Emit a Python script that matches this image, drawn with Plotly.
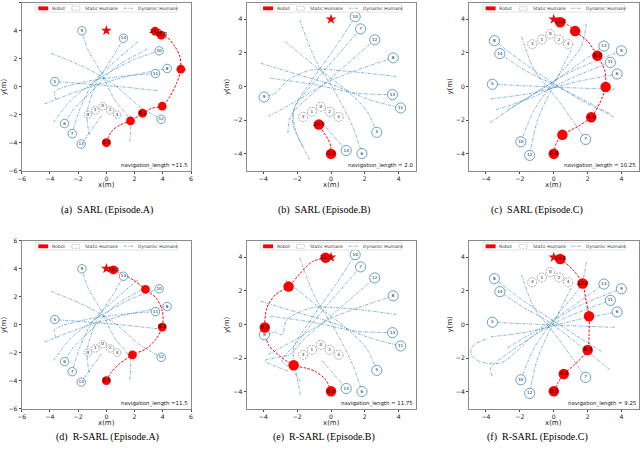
import plotly.graph_objects as go

# ------------------------------------------------------------------ data
GOAL_X = [0.0]
GOAL_Y = [4.0]

STATIC_LABELS = ["3", "1", "0", "2", "4"]
A_STATIC_X = [-1.30, -0.78, -0.26, 0.26, 0.76]
A_STATIC_Y = [-2.00, -1.70, -1.40, -1.70, -2.00]
B_STATIC_X = [-1.65, -1.13, -0.60, -0.08, 0.45]
B_STATIC_Y = [-1.80, -1.50, -1.20, -1.50, -1.80]
C_STATIC_X = [-1.27, -0.70, -0.20, 0.32, 0.85]
C_STATIC_Y = [2.52, 2.80, 3.12, 2.80, 2.52]

HUMAN_LABELS = ["5", "6", "7", "8", "9", "10", "11", "12", "13", "14"]

# Episode A dynamic humans (way-points, last point = final position)
A_HUMAN_X = [
    [3.60, 1.42, -1.42, -3.65],
    [2.91, 0.71, -1.18, -2.37, -2.96],
    [2.25, 0.47, -0.95, -1.90, -2.42],
    [-4.38, -1.66, 1.42, 4.31],
    [1.66, 1.66, 0.59, -0.47, -1.30, -1.73],
    [-3.74, -2.49, -0.47, 1.90, 3.74],
    [-3.55, -3.67, -1.42, 1.42, 3.48],
    [-3.91, -1.18, 0.71, 2.37, 3.89],
    [-0.36, -1.78],
    [-1.21, -1.37, -0.71, 0.47, 1.21],
]
A_HUMAN_Y = [
    [-0.29, -0.05, 0.19, 0.36],
    [2.67, 1.43, -0.48, -1.67, -2.64],
    [3.21, 1.67, 0.24, -1.67, -3.36],
    [-1.24, -0.19, 0.71, 1.29],
    [-3.93, -2.38, -0.95, 1.19, 2.62, 3.98],
    [-2.55, -0.95, 0.60, 1.90, 2.55],
    [-0.95, -0.36, 0.36, 0.76, 0.93],
    [2.38, 1.19, 0.00, -1.43, -2.33],
    [-2.10, -4.10],
    [-3.45, -1.90, 0.24, 2.14, 3.45],
]

# Episode B dynamic humans (SARL run)
B_HUMAN_X = [
    [-2.71, -0.92, 0.88, 2.07, 2.71],
    [-1.85, -0.92, 0.28, 1.27, 1.83],
    [-1.67, -2.27, -2.11, -0.52, 1.75],
    [-3.70, -1.91, 0.08, 3.68],
    [3.86, 1.07, -1.11, -2.51, -3.30, -3.96],
    [-1.27, -2.11, -2.21, -1.11, 0.28, 1.43],
    [-4.16, -1.91, 0.08, 2.27, 4.12],
    [-2.55, -2.41, -1.71, -0.12, 2.59],
    [-3.60, -0.92, 1.47, 3.64],
    [-0.52, 0.90],
]
B_HUMAN_Y = [
    [2.68, 1.20, -0.19, -1.37, -2.72],
    [3.96, 1.59, -0.39, -2.36, -3.98],
    [-3.55, -2.17, -1.18, 0.80, 3.43],
    [-1.77, -0.78, 0.41, 1.71],
    [0.60, 0.90, 1.00, 0.41, -0.39, -0.62],
    [-4.34, -2.56, -1.37, 0.41, 2.38, 4.16],
    [1.39, 0.70, 0.11, -0.78, -1.27],
    [-2.76, -1.77, -0.98, 0.41, 2.78],
    [0.50, 0.11, -0.39, -0.48],
    [-2.16, -3.80],
]

# Episode B dynamic humans (R-SARL run)
E_HUMAN_X = [
    [-2.71, -0.92, 0.88, 2.07, 2.71],
    [-1.85, -0.92, 0.28, 1.27, 1.83],
    [-1.81, -2.40, -2.90, -2.11, -0.52, 1.75],
    [-3.70, -1.91, 0.08, 3.68],
    [3.86, 1.07, -1.11, -2.60, -2.90, -3.30, -3.94],
    [-1.81, -2.11, -2.21, -1.11, 0.28, 1.43],
    [-4.16, -1.91, 0.08, 2.27, 4.12],
    [-2.55, -3.90, -2.41, -1.71, -0.12, 2.59],
    [-3.60, -0.92, 1.47, 3.64],
    [-0.52, 0.90],
]
E_HUMAN_Y = [
    [2.68, 1.20, -0.19, -1.37, -2.72],
    [3.96, 1.59, -0.39, -2.36, -3.98],
    [-3.37, -2.60, -2.14, -1.18, 0.80, 3.43],
    [-1.77, -0.78, 0.41, 1.71],
    [0.60, 0.95, 1.00, 0.30, -0.60, -0.45, -0.60],
    [-4.16, -2.56, -1.37, 0.41, 2.38, 4.16],
    [1.39, 0.70, 0.11, -0.78, -1.27],
    [-2.76, -2.14, -1.77, -0.98, 0.41, 2.78],
    [0.50, 0.11, -0.39, -0.48],
    [-2.16, -3.80],
]

# Episode C dynamic humans (SARL run)
C_HUMAN_X = [
    [3.60, 0.24, -3.62],
    [-3.72, -1.34, 1.42, 3.74],
    [-1.90, -1.15, 0.24, 1.88],
    [3.54, 1.23, -1.74, -3.50],
    [-3.75, -1.74, 0.83, 3.99],
    [1.92, 1.62, 0.24, -1.15, -1.94],
    [-3.42, -1.15, 1.23, 3.34],
    [1.03, 0.04, -0.95, -1.42],
    [-2.73, -0.16, 2.96],
    [3.30, 0.24, -1.74, -3.18],
]
C_HUMAN_Y = [
    [-0.16, -0.04, 0.14],
    [-0.73, -0.40, 0.30, 0.75],
    [2.96, 0.99, -0.79, -3.14],
    [-1.80, -0.59, 1.38, 2.73],
    [-2.13, -0.79, 0.79, 2.13],
    [3.72, 2.37, 0.59, -1.38, -3.28],
    [-1.38, -0.59, 0.59, 1.44],
    [2.17, 0.20, -1.98, -4.09],
    [-1.38, 0.20, 2.41],
    [-1.60, 0.00, 0.99, 1.96],
]

# Episode C dynamic humans (R-SARL run)
F_HUMAN_X = [
    [3.60, 0.24, -3.62],
    [-3.72, -1.34, 1.42, 3.74],
    [-1.90, -1.15, 0.24, 1.88],
    [2.81, 1.23, -1.74, -3.50],
    [-4.01, -4.70, -4.90, -4.41, -3.12, -1.15, 1.23, 3.99],
    [1.92, 1.62, 0.24, -1.15, -1.94],
    [-3.62, -3.72, -2.53, 0.24, 3.34],
    [1.03, 0.04, -0.95, -1.42],
    [-2.73, -0.16, 2.96],
    [3.30, 1.50, -0.50, -1.74, -3.18],
]
F_HUMAN_Y = [
    [-0.16, -0.04, 0.14],
    [-0.73, -0.40, 0.30, 0.75],
    [2.96, 0.99, -0.79, -3.14],
    [-1.59, -0.59, 1.38, 2.73],
    [-0.86, -1.20, -1.69, -2.18, -2.28, -0.60, 0.98, 2.13],
    [3.72, 2.37, 0.59, -1.38, -3.28],
    [-3.07, -2.58, -1.59, 0.19, 1.44],
    [2.17, 0.20, -1.98, -4.09],
    [-1.38, 0.20, 2.41],
    [-2.68, -1.20, 0.30, 0.99, 1.96],
]

# Robot paths
RA_PATH_X = [0.0, 0.36, 0.95, 1.71, 2.56, 3.20, 3.96, 4.50, 4.98, 5.28, 5.21, 4.86, 4.38, 3.89, 3.46]
RA_PATH_Y = [-4.0, -3.21, -2.74, -2.45, -1.90, -1.55, -1.40, -0.71, 0.24, 1.24, 2.14, 2.86, 3.45, 3.67, 3.95]
RA_DISC_X = [0.0, 1.71, 2.56, 3.96, 5.28, 3.89, 3.46]
RA_DISC_Y = [-4.0, -2.45, -1.90, -1.40, 1.24, 3.67, 3.95]
RA_DISC_T = ["0.0", "", "8.0", "", "", "16.0", "24.0"]

RB_PATH_X = [0.0, -0.02, -0.16, -0.42, -0.72]
RB_PATH_Y = [-4.0, -3.55, -3.15, -2.75, -2.26]
RB_DISC_X = [0.0, -0.72]
RB_DISC_Y = [-4.0, -2.26]
RB_DISC_T = ["0.0", "24.0"]

RC_PATH_X = [0.0, 0.14, 0.51, 1.42, 2.21, 2.71, 3.06, 3.00, 2.57, 2.02, 1.26, 0.83, 0.38]
RC_PATH_Y = [-3.99, -3.36, -2.87, -2.37, -1.82, -0.99, -0.02, 0.99, 1.84, 2.67, 3.30, 3.66, 3.83]
RC_DISC_X = [0.0, 0.51, 2.21, 3.06, 2.57, 1.26, 0.38]
RC_DISC_Y = [-3.99, -2.87, -1.82, -0.02, 1.84, 3.30, 3.83]
RC_DISC_T = ["0.0", "", "4.0", "", "8.0", "", "11.0"]

RD_PATH_X = [0.0, 0.36, 0.95, 1.85, 2.84, 3.55, 3.96, 3.98, 3.55, 2.77, 1.90, 1.18, 0.50]
RD_PATH_Y = [-4.0, -3.38, -2.78, -2.16, -1.71, -0.99, -0.18, 0.92, 1.87, 2.52, 3.19, 3.59, 3.90]
RD_DISC_X = [0.0, 1.85, 3.96, 2.77, 0.50]
RD_DISC_Y = [-4.0, -2.16, -0.18, 2.52, 3.90]
RD_DISC_T = ["0.0", "", "8.0", "", "11.5"]

RE_PATH_X = [0.0, -0.32, -0.92, -1.51, -2.21, -3.00, -3.70, -3.92, -3.80, -3.30, -2.51, -1.91, -1.11, -0.32]
RE_PATH_Y = [-3.96, -3.27, -2.78, -2.58, -2.42, -1.89, -1.20, -0.17, 0.98, 1.77, 2.26, 2.95, 3.74, 3.98]
RE_DISC_X = [0.0, -2.21, -3.92, -2.51, -0.32]
RE_DISC_Y = [-3.96, -2.42, -0.17, 2.26, 3.98]
RE_DISC_T = ["0.0", "", "8.0", "", "11.5"]

RF_PATH_X = [0.0, 0.24, 0.59, 1.23, 2.00, 2.08, 2.08, 1.92, 1.70, 1.23, 0.73, 0.38]
RF_PATH_Y = [-3.96, -3.47, -2.94, -2.38, -1.51, -0.60, 0.50, 1.37, 2.44, 3.15, 3.64, 3.90]
RF_DISC_X = [0.0, 0.59, 2.00, 2.08, 1.70, 0.38]
RF_DISC_Y = [-3.96, -2.94, -1.51, 0.50, 2.44, 3.90]
RF_DISC_T = ["0.0", "4.0", "8.0", "", "12.0", "14.0"]

NAV_TEXT = ["navigation_length =11.5", "navigation_length = 2.0", "navigation_length = 10.25",
            "navigation_length =11.5", "navigation_length = 11.75", "navigation_length = 9.25"]
CAPTIONS = ["(a)  SARL (Episode.A)", "(b)  SARL (Episode.B)", "(c)  SARL (Episode.C)",
            "(d)  R-SARL (Episode.A)", "(e)  R-SARL (Episode.B)", "(f)  R-SARL (Episode.C)"]
BIG_TICKS = [-6, -4, -2, 0, 2, 4, 6]
SMALL_TICKS = [-4, -2, 0, 2, 4]

# ------------------------------------------------------------------ layout config
W, H = 640, 453
COLS = [(21.7, 191.0), (246.5, 415.5), (469.0, 638.5)]
ROWS = [(2.5, 170.7), (240.5, 408.7)]
CAP_Y = [210, 437]
CAP_X = [107, 324, 537]
XT_Y = [184.5, 423]          # x(m) label centre (px)
YT_DX = [18, 20, 19]          # y(m) label offset left of axis (px)

panels = [
    dict(static=(A_STATIC_X, A_STATIC_Y), hum=(A_HUMAN_X, A_HUMAN_Y),
         rob=(RA_PATH_X, RA_PATH_Y, RA_DISC_X, RA_DISC_Y, RA_DISC_T), rng=6, ticks=BIG_TICKS),
    dict(static=(B_STATIC_X, B_STATIC_Y), hum=(B_HUMAN_X, B_HUMAN_Y),
         rob=(RB_PATH_X, RB_PATH_Y, RB_DISC_X, RB_DISC_Y, RB_DISC_T), rng=5, ticks=SMALL_TICKS),
    dict(static=(C_STATIC_X, C_STATIC_Y), hum=(C_HUMAN_X, C_HUMAN_Y),
         rob=(RC_PATH_X, RC_PATH_Y, RC_DISC_X, RC_DISC_Y, RC_DISC_T), rng=5, ticks=SMALL_TICKS),
    dict(static=(A_STATIC_X, A_STATIC_Y), hum=(A_HUMAN_X, A_HUMAN_Y),
         rob=(RD_PATH_X, RD_PATH_Y, RD_DISC_X, RD_DISC_Y, RD_DISC_T), rng=6, ticks=BIG_TICKS),
    dict(static=(B_STATIC_X, B_STATIC_Y), hum=(E_HUMAN_X, E_HUMAN_Y),
         rob=(RE_PATH_X, RE_PATH_Y, RE_DISC_X, RE_DISC_Y, RE_DISC_T), rng=5, ticks=SMALL_TICKS),
    dict(static=(C_STATIC_X, C_STATIC_Y), hum=(F_HUMAN_X, F_HUMAN_Y),
         rob=(RF_PATH_X, RF_PATH_Y, RF_DISC_X, RF_DISC_Y, RF_DISC_T), rng=5, ticks=SMALL_TICKS),
]

BLUE = "rgba(31,119,180,0.7)"
BLUE_C = "rgba(31,119,180,0.85)"
RED = "#ff0000"
GRAY = "rgba(90,90,90,0.85)"
DASHDOT = "3px,1.2px,1px,1.2px"
TICKFONT = dict(family="DejaVu Sans", size=6.2, color="#222")

fig = go.Figure()
shapes = []
annotations = []
layout = dict(width=W, height=H, margin=dict(l=0, r=0, t=0, b=0, autoexpand=False),
              paper_bgcolor="white", plot_bgcolor="white", showlegend=False,
              font=dict(family="DejaVu Sans"))

for i, p in enumerate(panels):
    k = i + 1
    row, col = divmod(i, 3)
    xs = "" if k == 1 else str(k)
    xa, ya = "x" + xs, "y" + xs
    x0p, x1p = COLS[col]
    y0p, y1p = ROWS[row]
    scale = (x1p - x0p) / (2 * p["rng"])  # px per metre
    r = p["rng"]

    axcommon = dict(showgrid=False, zeroline=False, showline=True, mirror=True,
                    linecolor="#8a8a8a", linewidth=0.8, ticks="outside", ticklen=2,
                    tickwidth=0.8, tickcolor="#444", tickfont=TICKFONT, automargin=False,
                    tickvals=p["ticks"], range=[-r, r], fixedrange=True)
    layout["xaxis" + xs] = dict(axcommon, domain=[x0p / W, x1p / W], anchor=ya)
    layout["yaxis" + xs] = dict(axcommon, domain=[1 - y1p / H, 1 - y0p / H], anchor=xa)

    # axis titles
    annotations.append(dict(text="x(m)", xref="paper", yref="paper", x=(x0p + x1p) / 2 / W,
                            y=1 - XT_Y[row] / H, xanchor="center", yanchor="middle",
                            showarrow=False, font=dict(size=7, color="#222")))
    annotations.append(dict(text="y(m)", xref="paper", yref="paper", x=(x0p - YT_DX[col]) / W,
                            y=1 - (y0p + y1p) / 2 / H, xanchor="center", yanchor="middle",
                            textangle=-90, showarrow=False, font=dict(size=7, color="#222")))

    # dynamic human trajectories
    hx, hy = p["hum"]
    for j in range(len(hx)):
        fig.add_trace(go.Scatter(x=hx[j], y=hy[j], mode="lines", xaxis=xa, yaxis=ya,
                                 line=dict(color=BLUE, width=0.8, dash=DASHDOT, shape="spline", smoothing=0.8),
                                 hoverinfo="skip"))
    # robot path
    px_, py_, dx, dy, dt = p["rob"]
    fig.add_trace(go.Scatter(x=px_, y=py_, mode="lines", xaxis=xa, yaxis=ya,
                             line=dict(color=RED, width=1.0, dash="2.5px,1.5px", shape="spline", smoothing=0.8),
                             hoverinfo="skip"))
    # static humans (dashed circles)
    sx, sy = p["static"]
    rs = 0.27
    for cx, cy in zip(sx, sy):
        shapes.append(dict(type="circle", xref=xa, yref=ya, x0=cx - rs, x1=cx + rs,
                           y0=cy - rs, y1=cy + rs, line=dict(color=GRAY, width=0.6, dash="2px,1px"),
                           fillcolor="rgba(255,255,255,0)", layer="above"))
    fig.add_trace(go.Scatter(x=sx, y=sy, mode="text", text=STATIC_LABELS, xaxis=xa, yaxis=ya,
                             textfont=dict(size=4.2, color="#111"), hoverinfo="skip"))
    # dynamic human final positions
    ex = [t[-1] for t in hx]
    ey = [t[-1] for t in hy]
    fig.add_trace(go.Scatter(x=ex, y=ey, mode="markers+text", text=HUMAN_LABELS, xaxis=xa, yaxis=ya,
                             textposition="middle center", textfont=dict(size=4.2, color="#111"),
                             marker=dict(size=0.6 * scale, color="rgba(255,255,255,0.9)",
                                         line=dict(color=BLUE_C, width=0.8)),
                             hoverinfo="skip"))
    # goal
    fig.add_trace(go.Scatter(x=GOAL_X, y=GOAL_Y, mode="markers", xaxis=xa, yaxis=ya,
                             marker=dict(symbol="star", size=8, color=RED, line=dict(width=0)),
                             hoverinfo="skip"))
    # robot discs
    fig.add_trace(go.Scatter(x=dx, y=dy, mode="markers+text", text=dt, xaxis=xa, yaxis=ya,
                             textposition="middle center", textfont=dict(size=5.3, color="black"),
                             marker=dict(size=0.62 * scale, color=RED, line=dict(width=0)),
                             hoverinfo="skip"))

    # legend (drawn inside axis domain)
    xd, yd = xa + " domain", ya + " domain"
    shapes.append(dict(type="rect", xref=xd, yref=yd, x0=0.082, x1=0.917, y0=0.943, y1=0.989,
                       line=dict(color="#d0d0d0", width=0.6), fillcolor="white", layer="above"))
    shapes.append(dict(type="rect", xref=xd, yref=yd, x0=0.098, x1=0.157, y0=0.954, y1=0.977,
                       line=dict(width=0), fillcolor=RED, layer="above"))
    shapes.append(dict(type="rect", xref=xd, yref=yd, x0=0.296, x1=0.343, y0=0.954, y1=0.977,
                       line=dict(color="#aaa", width=0.6, dash="2px,1px"), fillcolor="white", layer="above"))
    shapes.append(dict(type="line", xref=xd, yref=yd, x0=0.603, x1=0.66, y0=0.966, y1=0.966,
                       line=dict(color=BLUE, width=0.8, dash=DASHDOT), layer="above"))
    for txt, xx in [("Robot", 0.168), ("Static Humans", 0.363), ("Dynamic Humans", 0.678)]:
        annotations.append(dict(text=txt, xref=xd, yref=yd, x=xx, y=0.966, xanchor="left",
                                yanchor="middle", showarrow=False,
                                font=dict(size=4.5, color="#333")))
    # navigation length text
    annotations.append(dict(text=NAV_TEXT[i], xref=xd, yref=yd, x=0.997, y=0.03,
                            xanchor="right", yanchor="middle", showarrow=False,
                            font=dict(size=5.4, color="#111")))
    # caption
    annotations.append(dict(text=CAPTIONS[i], xref="paper", yref="paper",
                            x=CAP_X[col] / W, y=1 - CAP_Y[row] / H, xanchor="center",
                            yanchor="middle", showarrow=False,
                            font=dict(family="Liberation Serif, Times New Roman, serif", size=10, color="black")))

layout["shapes"] = shapes
layout["annotations"] = annotations
fig.update_layout(**layout)
fig.write_html("out.html", config={"displayModeBar": False},
               post_script="document.body.style.margin='0';document.body.style.padding='0';")
